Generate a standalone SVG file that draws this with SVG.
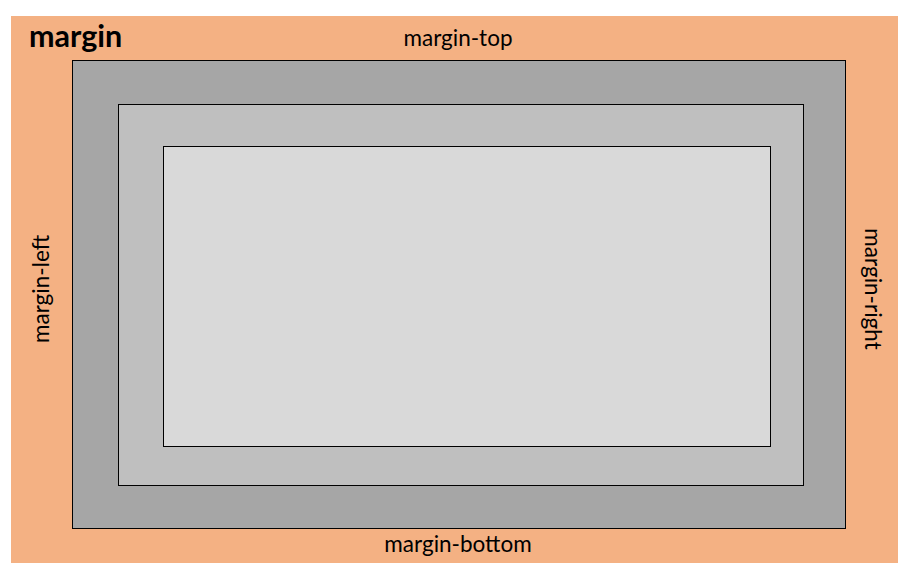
<svg xmlns="http://www.w3.org/2000/svg" width="914" height="574" viewBox="0 0 914 574">
<style>
.lbl{font-family:Lato,"Liberation Sans",sans-serif;font-size:22.5px;fill:#000;text-anchor:middle}
.box{stroke:#000;stroke-width:1}
</style>
<rect width="914" height="574" fill="#fff"/>
<g id="margin">
<rect x="11" y="16" width="887" height="547" fill="#F4B183"/>
<text x="29" y="47" style="font-family:Lato,'Liberation Sans',sans-serif;font-size:30.5px;font-weight:bold">margin</text>
<text class="lbl" x="458" y="46">margin-top</text>
<text class="lbl" x="458" y="552">margin-bottom</text>
<text class="lbl" transform="translate(49,289) rotate(-90)">margin-left</text>
<text class="lbl" transform="translate(865,289) rotate(90)">margin-right</text>
</g>
<g id="border"><rect class="box" x="72.5" y="60.5" width="773" height="468" fill="#A6A6A6"/></g>
<g id="padding"><rect class="box" x="118.5" y="104.5" width="685" height="381" fill="#BFBFBF"/></g>
<g id="content"><rect class="box" x="163.5" y="146.5" width="607" height="300" fill="#D9D9D9"/></g>
<g id="connectors"/>
</svg>
